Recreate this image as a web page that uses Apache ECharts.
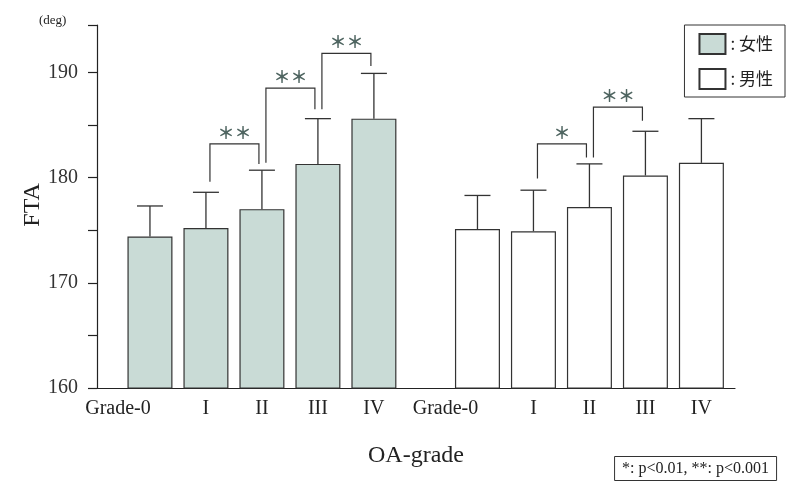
<!DOCTYPE html>
<html>
<head>
<meta charset="utf-8">
<script src="https://cdn.jsdelivr.net/npm/echarts@6/dist/echarts.min.js"></script>
<style>
  html, body { margin: 0; padding: 0; background: #fff; }
  #main { width: 794px; height: 485px; }
</style>
</head>
<body>
<div id="main"></div>
<script>
// OA grade groups: female (0..4) and male (after a gap)
var gradeLabels = ['Grade-0', 'I', 'II', 'III', 'IV'];
var femaleX = [0, 1, 2, 3, 4];
var maleX = [5.85, 6.85, 7.85, 8.85, 9.85];

// mean FTA (deg) and SD
var femaleMean = [174.4, 175.2, 177.0, 181.3, 185.6];
var femaleSD = [2.9, 3.4, 3.7, 4.3, 4.3];
var maleMean = [175.1, 174.9, 177.2, 180.2, 181.4];
var maleSD = [3.2, 3.9, 4.1, 4.2, 4.2];

// significance brackets: [fromIndex, toIndex, top, leftLegEnd, rightLegEnd]
var femaleBrackets = [[1, 2, 183.2, 179.6, 181.3], [2, 3, 188.5, 181.4, 186.5], [3, 4, 191.8, 186.5, 190.6]];
var femaleStars = ['**', '**', '**'];
var maleBrackets = [[1, 2, 183.2, 179.9, 181.9], [2, 3, 186.7, 181.9, 185.4]];
var maleStars = ['*', '**'];

var yTicks = [160, 170, 180, 190];

var serif = '"Liberation Serif", "DejaVu Serif", serif';
var cjk = '"Noto Sans CJK JP", "Noto Sans", sans-serif';

var dom = document.getElementById('main');
var myChart = echarts.init(dom, null, { renderer: 'canvas' });

var allX = femaleX.concat(maleX);
var allLabels = gradeLabels.concat(gradeLabels);

function pairs(xs, ys) {
    return xs.map(function (x, i) { return [x, ys[i]]; });
}
function errRows(xs, m, s) {
    return xs.map(function (x, i) { return [x, m[i], m[i] + s[i]]; });
}
function bracketRows(xs, br) {
    return br.map(function (b) { return [xs[b[0]], xs[b[1]], b[2], b[3], b[4]]; });
}

function renderErr(params, api) {
    var lo = api.coord([api.value(0), api.value(1)]);
    var hi = api.coord([api.value(0), api.value(2)]);
    var half = 13;
    var st = { stroke: '#333', lineWidth: 1.3 };
    return {
        type: 'group',
        children: [
            { type: 'line', shape: { x1: lo[0], y1: lo[1], x2: hi[0], y2: hi[1] }, style: st },
            { type: 'line', shape: { x1: hi[0] - half, y1: hi[1], x2: hi[0] + half, y2: hi[1] }, style: st }
        ]
    };
}

function makeBracketRenderer(stars) {
    return function (params, api) {
        var tl = api.coord([api.value(0), api.value(2)]);
        var tr = api.coord([api.value(1), api.value(2)]);
        var bl = api.coord([api.value(0), api.value(3)]);
        var brc = api.coord([api.value(1), api.value(4)]);
        var lx = tl[0] + 4, rx = tr[0] - 3;
        var st = { stroke: '#333', lineWidth: 1.2, fill: null };
        return {
            type: 'group',
            children: [
                { type: 'polyline', shape: { points: [[lx, bl[1]], [lx, tl[1]], [rx, tr[1]], [rx, brc[1]]] }, style: st },
                {
                    type: 'text',
                    x: (lx + rx) / 2, y: tl[1] - 3,
                    style: {
                        text: stars[params.dataIndex].replace(/\*/g, '＊'),
                        font: 'bold 17px ' + cjk, fill: '#4f6561',
                        align: 'center', verticalAlign: 'bottom'
                    }
                }
            ]
        };
    };
}

var option = {
    backgroundColor: '#fff',
    animation: false,
    title: {
        text: '*: p<0.01, **: p<0.001',
        right: 17,
        bottom: 4,
        padding: [5, 8, 4, 8],
        borderColor: '#333',
        borderWidth: 1,
        textStyle: { fontFamily: serif, fontSize: 16, fontWeight: 'normal', color: '#222' }
    },
    legend: {
        orient: 'vertical',
        right: 9,
        top: 25,
        padding: [8, 12, 7, 14],
        itemWidth: 26,
        itemHeight: 20,
        itemGap: 13,
        borderColor: '#333',
        borderWidth: 1,
        icon: 'rect',
        formatter: ': {name}',
        textStyle: { fontFamily: cjk, fontSize: 17, color: '#222' },
        data: ['女性', '男性']
    },
    grid: { left: 97, right: 59, top: 25, bottom: 97 },
    xAxis: {
        type: 'value',
        min: -0.946,
        max: 10.45,
        name: 'OA-grade',
        nameLocation: 'middle',
        nameGap: 56,
        nameTextStyle: { fontFamily: serif, fontSize: 24, color: '#222' },
        axisLine: { show: true, onZero: false, lineStyle: { color: '#222', width: 1.2 } },
        axisTick: { show: false },
        splitLine: { show: false },
        axisLabel: {
            customValues: allX,
            margin: 11,
            fontFamily: serif,
            fontSize: 20,
            color: '#222',
            formatter: function (v) {
                var best = 0;
                for (var i = 1; i < allX.length; i++) {
                    if (Math.abs(allX[i] - v) < Math.abs(allX[best] - v)) best = i;
                }
                var t = allLabels[best];
                return t === 'Grade-0' ? '{g|' + t + '}' : t;
            },
            rich: { g: { fontFamily: serif, fontSize: 20, color: '#222', padding: [0, 64, 0, 0] } }
        }
    },
    yAxis: {
        type: 'value',
        min: 160,
        max: 194.5,
        interval: 5,
        axisLine: { show: true, onZero: false, lineStyle: { color: '#222', width: 1.2 } },
        axisTick: { show: true, inside: false, length: 9, lineStyle: { color: '#222', width: 1.2 } },
        splitLine: { show: false },
        axisLabel: {
            margin: 19,
            fontFamily: serif,
            fontSize: 20,
            color: '#333',
            formatter: function (v) { return yTicks.indexOf(v) >= 0 ? String(v) : ''; }
        }
    },
    graphic: [
        { type: 'text', x: 39, y: 14, style: { text: '(deg)', font: '13px ' + serif, fill: '#222' } },
        {
            type: 'text', x: 33, y: 205, rotation: Math.PI / 2,
            style: { text: 'FTA', font: '24px ' + serif, fill: '#222', align: 'center', verticalAlign: 'middle' }
        }
    ],
    series: [
        {
            name: '女性',
            type: 'bar',
            barWidth: 45,
            itemStyle: { color: '#c9dbd6', borderColor: '#333', borderWidth: 1.2 },
            data: pairs(femaleX, femaleMean)
        },
        {
            name: '男性',
            type: 'bar',
            barWidth: 45,
            barGap: '-100%',
            itemStyle: { color: '#ffffff', borderColor: '#333', borderWidth: 1.2 },
            data: pairs(maleX, maleMean)
        },
        {
            type: 'custom',
            renderItem: renderErr,
            encode: { x: 0, y: [1, 2] },
            z: 3,
            data: errRows(femaleX, femaleMean, femaleSD).concat(errRows(maleX, maleMean, maleSD))
        },
        {
            type: 'custom',
            renderItem: makeBracketRenderer(femaleStars),
            encode: { x: [0, 1], y: [2, 3, 4] },
            z: 3,
            data: bracketRows(femaleX, femaleBrackets)
        },
        {
            type: 'custom',
            renderItem: makeBracketRenderer(maleStars),
            encode: { x: [0, 1], y: [2, 3, 4] },
            z: 3,
            data: bracketRows(maleX, maleBrackets)
        }
    ]
};

if (option && typeof option === 'object') {
    myChart.setOption(option);
}

window.addEventListener('resize', myChart.resize);
</script>
</body>
</html>
